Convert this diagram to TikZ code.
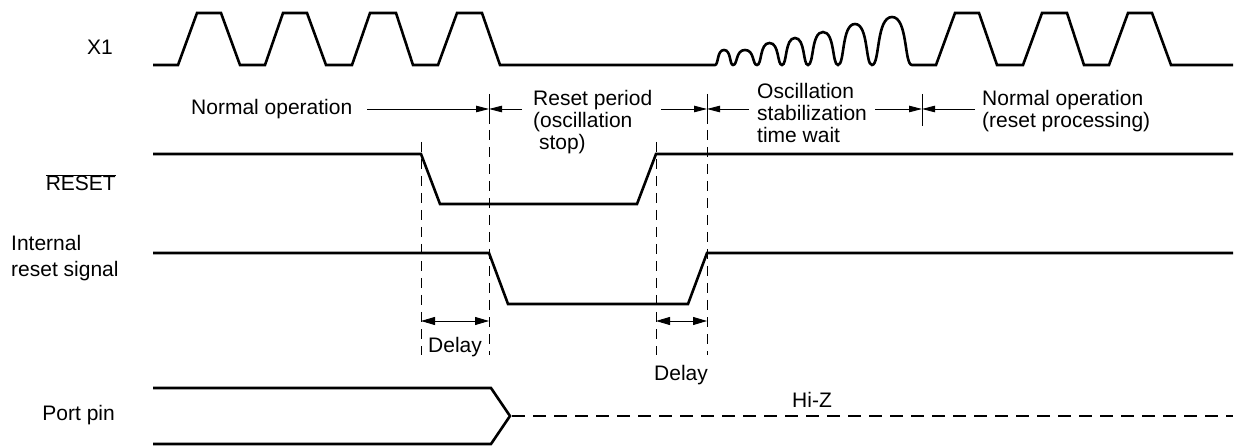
\documentclass[tikz,border=0pt]{standalone}
\usepackage{fontspec}
\setmainfont{Liberation Sans}
\usetikzlibrary{arrows.meta}
\newcommand\lblfont{\fontsize{21}{21}\selectfont}
\begin{document}
\begin{tikzpicture}[x=1pt,y=-1pt,
  sig/.style={line width=2.6pt},
  guide/.style={line width=0.9pt, dash pattern=on 10pt off 7pt},
  tickline/.style={line width=0.9pt},
  dim/.style={line width=0.9pt,-{Triangle[length=13pt,width=6.5pt]}},
  dimb/.style={line width=0.9pt,{Triangle[length=14pt,width=8pt]}-{Triangle[length=14pt,width=8pt]}},
  hiz/.style={line width=2.6pt, dash pattern=on 13pt off 8pt},
  lbl/.style={inner sep=0pt, font=\lblfont}]
\useasboundingbox (0,0) rectangle (1234,446);

% ---- left labels
\node[lbl, anchor=base east] (x1) at (113,55) {X1};
\node[lbl, anchor=base east] (rst) at (116,191) {$\overline{\hbox{RESET}}$};
\node[lbl, anchor=base west] (irs) at (11,251) {\fontsize{21}{26}\selectfont\begin{tabular}[t]{@{}l@{}}Internal\\reset signal\end{tabular}};
\node[lbl, anchor=base east] (port) at (115,420) {Port pin};

% ---- X1 clock
\draw[sig] (153,65) -- (178,65) -- (197,13) -- (221,13) -- (240,65) -- (265,65)
  -- (283,13) -- (307,13) -- (326,65) -- (352,65) -- (370,13) -- (396,13) -- (413,65)
  -- (438,65) -- (457,13) -- (482,13) -- (500,65) -- (715,65)
  .. controls (718.6,65) and (716.8,50) .. (724,50) .. controls (731.2,50) and (729.4,65) .. (733,65)
  .. controls (737.8,65) and (735.4,50) .. (745,50) .. controls (754.6,50) and (752.2,65) .. (757,65)
  .. controls (762,65) and (759.5,43) .. (769.5,43) .. controls (779.5,43) and (777,65) .. (782,65)
  .. controls (787.2,65) and (784.6,38) .. (795,38) .. controls (805.4,38) and (802.8,65) .. (808,65)
  .. controls (814,65) and (811,32) .. (823,32) .. controls (835,32) and (832,65) .. (838,65)
  .. controls (844.8,65) and (841.4,24) .. (855,24) .. controls (868.6,24) and (865.2,65) .. (872,65)
  .. controls (880,65) and (876,17) .. (892,17) .. controls (908,17) and (904,65) .. (912,65)
  -- (936,65) -- (955,13) -- (979,13) -- (997,65) -- (1023,65) -- (1042,13) -- (1067,13)
  -- (1084,65) -- (1109,65) -- (1128,13) -- (1152,13) -- (1171,65) -- (1233,65);

% ---- RESET
\draw[sig] (153,154) -- (421,154) -- (440,204) -- (637,204) -- (656,154) -- (1233,154);
% ---- Internal reset signal
\draw[sig] (153,253) -- (489,253) -- (508,304) -- (688,304) -- (707,253) -- (1233,253);
% ---- Port pin
\draw[sig] (153,388) -- (491,388) -- (510,416) -- (491,444) -- (153,444);
\draw[hiz] (512,416) -- (1233,416);
\node[lbl, anchor=base west] (hiz) at (792,407) {Hi-Z};

% ---- guide lines
\coordinate (d1) at (489,94);
\coordinate (d2) at (707,94);
\coordinate (d3) at (922,94);
\coordinate (g1) at (421,142);
\coordinate (g4) at (656,142);
\draw[tickline] (d1) -- (489,124);
\draw[tickline] (d2) -- (707,124);
\draw[tickline] (d3) -- (922,126);
\draw[guide] (489,130) -- (489,355);
\draw[guide] (707,130) -- (707,355);
\draw[guide] (g1) -- (421,355);
\draw[guide] (g4) -- (656,355);

% ---- phase labels and arrows
\node[lbl, anchor=base west] (norm1) at (191,115) {Normal operation};
\node[lbl, anchor=base west] (rp) at (533,106) {\begin{tabular}[t]{@{}l@{}}Reset period\\(oscillation\\\ stop)\end{tabular}};
\node[lbl, anchor=base west] (osw) at (757,99) {\begin{tabular}[t]{@{}l@{}}Oscillation\\stabilization\\time wait\end{tabular}};
\node[lbl, anchor=base west] (norm2) at (982,106) {\begin{tabular}[t]{@{}l@{}}Normal operation\\(reset processing)\end{tabular}};

\coordinate (a1) at (367,109);
\coordinate (a2) at (522,109);
\coordinate (a3) at (661,109);
\coordinate (a4) at (749,109);
\coordinate (a5) at (875,109);
\coordinate (a6) at (975,109);
\draw[dim] (a1) -- (a1 -| d1);
\draw[dim] (a2) -- (a2 -| d1);
\draw[dim] (a3) -- (a3 -| d2);
\draw[dim] (a4) -- (a4 -| d2);
\draw[dim] (a5) -- (a5 -| d3);
\draw[dim] (a6) -- (a6 -| d3);

% ---- delays
\coordinate (e1) at (421,321);
\coordinate (e2) at (489,321);
\coordinate (e3) at (656,321);
\coordinate (e4) at (707,321);
\draw[dimb] (e1) -- (e2);
\draw[dimb] (e3) -- (e4);
\node[lbl, anchor=base west] (dl1) at (428,352) {Delay};
\node[lbl, anchor=base west] (dl2) at (654,380) {Delay};
\end{tikzpicture}
\end{document}
